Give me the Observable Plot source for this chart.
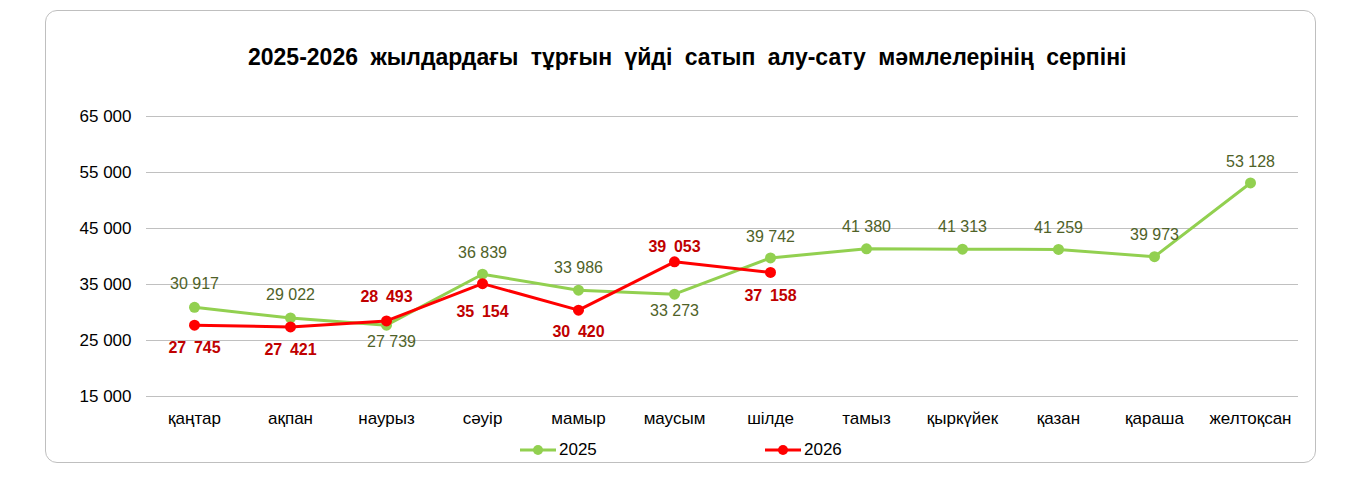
<!DOCTYPE html>
<html>
<head>
<meta charset="utf-8">
<script src="https://cdn.jsdelivr.net/npm/d3@7"></script>
<script src="https://cdn.jsdelivr.net/npm/@observablehq/plot@0.6"></script>
<style>
  html, body { margin: 0; padding: 0; background: #fff; width: 1353px; height: 483px; overflow: hidden; font-family: "Liberation Sans", Arial, sans-serif; }
  #frame { position: absolute; left: 45px; top: 10px; width: 1271px; height: 453px; border: 1px solid #bfbfbf; border-radius: 12px; box-sizing: border-box; }
  #title { position: absolute; left: 248px; top: 44px; white-space: nowrap; font-weight: bold; font-size: 23px; word-spacing: 6px; color: #000; }
  #chart { position: absolute; left: 0; top: 100px; }
  #legend { position: absolute; top: 440px; left: 0; width: 1353px; height: 20px; font-size: 17px; color: #000; }
  .item { position: absolute; top: 0; display: flex; align-items: center; }
  .item svg { margin-right: 3px; }
</style>
</head>
<body>
<div id="frame"></div>
<div id="title">2025-2026 жылдардағы тұрғын үйді сатып алу-сату мәмлелерінің серпіні</div>
<div id="chart"></div>
<div id="legend"></div>
<script>
const months = ["қаңтар","ақпан","наурыз","сәуір","мамыр","маусым","шілде","тамыз","қыркүйек","қазан","қараша","желтоқсан"];
const values2025 = [30917, 29022, 27739, 36839, 33986, 33273, 39742, 41380, 41313, 41259, 39973, 53128];
const values2026 = [27745, 27421, 28493, 35154, 30420, 39053, 37158];
const yTicks = [15000, 25000, 35000, 45000, 55000, 65000];
const seriesNames = ["2025", "2026"];

// label placement (style only)
const labelDy2025 = [-23, -23, 17, -21, -22, 17, -21, -22, -22, -22, -22, -21];
const labelDx2025 = [0, 0, 5, 0, 0, 0, 0, 0, 0, 0, 0, 0];
const labelDy2026 = [23, 23, -24, 28, 22, -15, 23];
const seriesColors = ["#92d050", "#ff0000"];
const labelColors = ["#4f6228", "#c00000"];

const fmt = v => d3.format(",")(v).replace(/,/g, " ");
const d25 = values2025.map((v, i) => ({month: months[i], value: v, i}));
const d26 = values2026.map((v, i) => ({month: months[i], value: v, i}));

const labelMarks = [];
d25.forEach(d => labelMarks.push(Plot.text([d], {x: "month", y: "value", text: d => fmt(d.value),
  fill: labelColors[0], fontSize: 16, dy: labelDy2025[d.i], dx: labelDx2025[d.i]})));
d26.forEach(d => labelMarks.push(Plot.text([d], {x: "month", y: "value", text: d => fmt(d.value).replace(" ", "\u2009 "),
  fill: labelColors[1], fontSize: 16, fontWeight: "bold", dy: labelDy2026[d.i]})));

const chart = Plot.plot({
  width: 1353,
  height: 330,
  marginLeft: 146,
  marginRight: 55,
  marginTop: 16,
  marginBottom: 34,
  style: {fontFamily: "'Liberation Sans', Arial, sans-serif", fontSize: "17px", color: "#000", background: "transparent", overflow: "visible"},
  x: {type: "point", domain: months, padding: 0.5, label: null},
  y: {domain: [15000, 65000], label: null},
  marks: [
    Plot.gridY(yTicks, {stroke: "#c0c0c0", strokeOpacity: 1, strokeWidth: 1}),
    Plot.axisY(yTicks, {tickSize: 0, tickPadding: 15, tickFormat: fmt, fontSize: 17, fill: "#000"}),
    Plot.axisX(months, {tickSize: 0, tickPadding: 15, fontSize: 17, fill: "#000"}),
    Plot.line(d25, {x: "month", y: "value", stroke: seriesColors[0], strokeWidth: 3}),
    Plot.dot(d25, {x: "month", y: "value", fill: seriesColors[0], r: 5.5}),
    Plot.line(d26, {x: "month", y: "value", stroke: seriesColors[1], strokeWidth: 3}),
    Plot.dot(d26, {x: "month", y: "value", fill: seriesColors[1], r: 5.5}),
    ...labelMarks
  ]
});
document.getElementById("chart").appendChild(chart);

const legend = document.getElementById("legend");
const legendX = [520, 765];
seriesNames.forEach((name, i) => {
  const item = document.createElement("div");
  item.className = "item";
  item.style.left = legendX[i] + "px";
  item.innerHTML = `<svg width="36" height="20"><line x1="0" y1="10" x2="36" y2="10" stroke="${seriesColors[i]}" stroke-width="3"/><circle cx="18" cy="10" r="5" fill="${seriesColors[i]}"/></svg><span>${name}</span>`;
  legend.appendChild(item);
});
</script>
</body>
</html>
